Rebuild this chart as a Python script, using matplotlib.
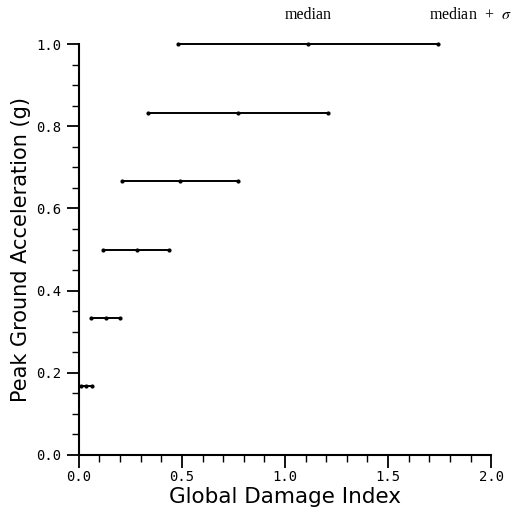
import numpy as np
import matplotlib.pyplot as plt

plt.rcParams['mathtext.fontset'] = 'stix'

# PGA levels and damage index (median - sigma, median, median + sigma)
pga = [1/6, 2/6, 3/6, 4/6, 5/6, 1.0]
di_low = [0.01, 0.058, 0.117, 0.21, 0.335, 0.48]
di_med = [0.035, 0.13, 0.28, 0.49, 0.77, 1.11]
di_high = [0.063, 0.20, 0.437, 0.77, 1.21, 1.74]

fig = plt.figure(figsize=(5.22, 5.14), dpi=100)
ax = fig.add_axes([0.151, 0.115, 0.790, 0.799])

for y, lo, md, hi in zip(pga, di_low, di_med, di_high):
    ax.plot([lo, md, hi], [y, y, y], color='black', lw=1.4,
            marker='o', markersize=2, clip_on=False)

ax.set_xlim(0, 2.0)
ax.set_ylim(0, 1.0)
ax.set_xticks(np.arange(0, 2.01, 0.5))
ax.set_xticks(np.arange(0, 2.01, 0.1), minor=True)
ax.set_yticks(np.arange(0, 1.01, 0.2))
ax.set_yticks(np.arange(0, 1.01, 0.05), minor=True)
ax.set_xticklabels(['0.0', '0.5', '1.0', '1.5', '2.0'])
ax.set_yticklabels(['0.0', '0.2', '0.4', '0.6', '0.8', '1.0'])
ax.tick_params(which='major', length=9, width=1.3, labelsize=10)
ax.tick_params(which='minor', length=5, width=1.0)
ax.tick_params(axis='x', which='major', pad=2)
for lab in ax.get_xticklabels() + ax.get_yticklabels():
    lab.set_fontfamily('DejaVu Sans Mono')

ax.spines['top'].set_visible(False)
ax.spines['right'].set_visible(False)
ax.spines['left'].set_linewidth(1.5)
ax.spines['bottom'].set_linewidth(1.5)

ax.set_xlabel('Global Damage Index', fontsize=15.5, labelpad=2)
ax.set_ylabel('Peak Ground Acceleration (g)', fontsize=15, labelpad=4)

# column labels above the plot
ax.text(1.11, 1.072, 'median', ha='center', va='center',
        fontfamily='Liberation Serif', fontsize=11.5)
ax.text(1.70, 1.072, r'median  +  $\sigma$', ha='left', va='center',
        fontfamily='Liberation Serif', fontsize=11.5)

fig.savefig('out.png', dpi=100)
